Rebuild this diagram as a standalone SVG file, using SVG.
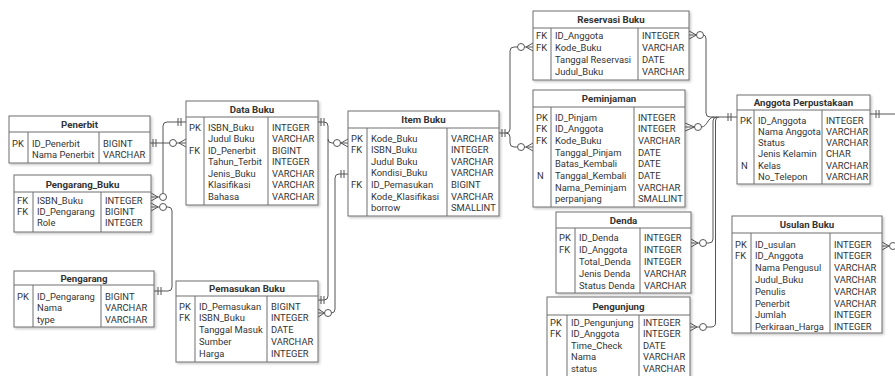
<svg xmlns="http://www.w3.org/2000/svg" width="895" height="376" viewBox="0 0 895 376">
<style>
.bg{fill:#fff}
.tb{fill:#fff;stroke:#6e6e6e;stroke-width:1;filter:url(#sh)}
.dv{stroke:#6e6e6e;stroke-width:1;fill:none}
.t{font-family:Roboto,"Liberation Sans",Arial,sans-serif;font-size:9.4px;fill:#333}
.h{font-family:Roboto,"Liberation Sans",Arial,sans-serif;font-size:9.7px;font-weight:bold;fill:#333;text-anchor:middle}
.ln{stroke:#555;stroke-width:1;fill:none}
.ci{stroke:#555;stroke-width:1;fill:#fff}
</style>
<defs>
<filter id="sh" x="-10%" y="-10%" width="130%" height="130%">
<feDropShadow dx="1.5" dy="1.5" stdDeviation="1" flood-color="#000" flood-opacity="0.22"/>
</filter>
</defs>
<rect class="bg" x="0" y="0" width="895" height="376"/>

<g id="connectors">
<path class="ln" d="M150,143 H169.5 M176.5,143 H179 L186,139 M179,143 H186 M179,143 L186,147 M153,139 V147 M156,139 V147"/>
<circle class="ci" cx="173" cy="143" r="3.5"/>
<path class="ln" d="M186,122 H167 Q163,122 163,126 V193.5 M159.5,197 H158 L151,193 M158,197 H151 M158,197 L151,201 M178,118 V126 M181,118 V126"/>
<circle class="ci" cx="163" cy="197" r="3.5"/>
<path class="ln" d="M154,291 H168 Q172,291 172,287 V211 Q172,207 168,207 H166.5 M159.5,207 H158 L151,203 M158,207 H151 M158,207 L151,211 M158,287 V295 M161,287 V295"/>
<circle class="ci" cx="163" cy="207" r="3.5"/>
<path class="ln" d="M318,122 H324 Q328,122 328,126 V139 Q328,143 332,143 H333.5 M340.5,143 H341 L348,139 M341,143 H348 M341,143 L348,147 M321,118 V126 M324,118 V126"/>
<circle class="ci" cx="337" cy="143" r="3.5"/>
<path class="ln" d="M328,139 V296 Q328,300 324,300 H318 M321,296 V304 M324,296 V304"/>
<path class="ln" d="M348,174 H339 Q335,174 335,178 V309 Q335,313 331.5,313 M324.5,313 L318,309 M324.5,313 H318 M324.5,313 L318,317 M341,170 V178 M344,170 V178"/>
<circle class="ci" cx="328" cy="313" r="3.5"/>
<path class="ln" d="M499,133 H506 Q510,133 510,129 V51 Q510,47 514,47 H517.5 M524.5,47 H526 L533,43 M526,47 H533 M526,47 L533,51 M506,133 Q510,133 510,137 V143 Q510,147 514,147 H517.5 M524.5,147 H526 L533,143 M526,147 H533 M526,147 L533,151 M502,129 V137 M505,129 V137"/>
<circle class="ci" cx="521" cy="47" r="3.5"/>
<circle class="ci" cx="521" cy="147" r="3.5"/>
<path class="ln" d="M737,117 H710 Q706,117 706,113 V39 Q706,35 703.5,35 M696.5,35 L689,31 M696.5,35 H689 M696.5,35 L689,39 M728,113 V121 M731,113 V121"/>
<circle class="ci" cx="700" cy="35" r="3.5"/>
<path class="ln" d="M701.5,127 C707,127 708,117 714,117 M694.5,127 L685,123 M694.5,127 H685 M694.5,127 L685,131"/>
<circle class="ci" cx="698" cy="127" r="3.5"/>
<path class="ln" d="M717,117 Q713,117 713,121 V239 Q713,243 709,243 H706.5 M699.5,243 H698 L691,239 M698,243 H691 M698,243 L691,247"/>
<circle class="ci" cx="703" cy="243" r="3.5"/>
<path class="ln" d="M719,117 Q715.5,117 715.5,121 V323 Q715.5,327 711,327 H706.5 M699.5,327 H697 L690,323 M697,327 H690 M697,327 L690,331"/>
<circle class="ci" cx="703" cy="327" r="3.5"/>
<path class="ln" d="M870,114 H895 M876,110 V118 M879,110 V118 M889,246 L882,242 M889,246 H882 M889,246 L882,250"/>
<circle class="ci" cx="893" cy="246" r="3.5"/>
</g>

<g id="penerbit">
<rect class="tb" x="9" y="116" width="141" height="47"/>
<path class="dv" d="M9,132 H150 M28,132 V163 M99,132 V163"/>
<text class="h" x="79.5" y="127.5">Penerbit</text>
<text class="t" x="12" y="146.5">PK</text><text class="t" x="32" y="146.5">ID_Penerbit</text><text class="t" x="103" y="146.5">BIGINT</text>
<text class="t" x="32" y="157.5">Nama Penerbit</text><text class="t" x="103" y="157.5">VARCHAR</text>
</g>

<g id="pengarang_buku">
<rect class="tb" x="14" y="175" width="137" height="57"/>
<path class="dv" d="M14,192 H151 M33,192 V232 M101,192 V232"/>
<text class="h" x="82.5" y="187.5">Pengarang_Buku</text>
<text class="t" x="17" y="203.5">FK</text><text class="t" x="37" y="203.5">ISBN_Buku</text><text class="t" x="105" y="203.5">INTEGER</text>
<text class="t" x="17" y="214.5">FK</text><text class="t" x="37" y="214.5">ID_Pengarang</text><text class="t" x="105" y="214.5">BIGINT</text>
<text class="t" x="37" y="225.5">Role</text><text class="t" x="105" y="225.5">INTEGER</text>
</g>

<g id="pengarang">
<rect class="tb" x="14" y="271" width="140" height="56"/>
<path class="dv" d="M14,285 H154 M33,285 V327 M101,285 V327"/>
<text class="h" x="84" y="281.5">Pengarang</text>
<text class="t" x="17" y="299.5">PK</text><text class="t" x="37" y="299.5">ID_Pengarang</text><text class="t" x="105" y="299.5">BIGINT</text>
<text class="t" x="37" y="311">Nama</text><text class="t" x="105" y="311">VARCHAR</text>
<text class="t" x="37" y="322.5">type</text><text class="t" x="105" y="322.5">VARCHAR</text>
</g>

<g id="data_buku">
<rect class="tb" x="186" y="101" width="132" height="104"/>
<path class="dv" d="M186,117 H318 M204,117 V205 M268,117 V205"/>
<text class="h" x="252" y="112.5">Data Buku</text>
<text class="t" x="189" y="130.5">PK</text><text class="t" x="208" y="130.5">ISBN_Buku</text><text class="t" x="272" y="130.5">INTEGER</text>
<text class="t" x="208" y="142">Judul Buku</text><text class="t" x="272" y="142">VARCHAR</text>
<text class="t" x="189" y="153.5">FK</text><text class="t" x="208" y="153.5">ID_Penerbit</text><text class="t" x="272" y="153.5">BIGINT</text>
<text class="t" x="208" y="165">Tahun_Terbit</text><text class="t" x="272" y="165">INTEGER</text>
<text class="t" x="208" y="176.5">Jenis_Buku</text><text class="t" x="272" y="176.5">VARCHAR</text>
<text class="t" x="208" y="188">Klasifikasi</text><text class="t" x="272" y="188">VARCHAR</text>
<text class="t" x="208" y="199.5">Bahasa</text><text class="t" x="272" y="199.5">VARCHAR</text>
</g>

<g id="pemasukan_buku">
<rect class="tb" x="176" y="281" width="142" height="81"/>
<path class="dv" d="M176,296 H318 M195,296 V362 M267,296 V362"/>
<text class="h" x="247" y="292">Pemasukan Buku</text>
<text class="t" x="179" y="309.5">PK</text><text class="t" x="199" y="309.5">ID_Pemasukan</text><text class="t" x="271" y="309.5">BIGINT</text>
<text class="t" x="179" y="321.3">FK</text><text class="t" x="199" y="321.3">ISBN_Buku</text><text class="t" x="271" y="321.3">INTEGER</text>
<text class="t" x="199" y="333.1">Tanggal Masuk</text><text class="t" x="271" y="333.1">DATE</text>
<text class="t" x="199" y="344.9">Sumber</text><text class="t" x="271" y="344.9">VARCHAR</text>
<text class="t" x="199" y="356.7">Harga</text><text class="t" x="271" y="356.7">INTEGER</text>
</g>

<g id="item_buku">
<rect class="tb" x="348" y="111" width="151" height="105"/>
<path class="dv" d="M348,128 H499 M367,128 V216 M447,128 V216"/>
<text class="h" x="423.5" y="123">Item Buku</text>
<text class="t" x="351" y="141.5">PK</text><text class="t" x="371" y="141.5">Kode_Buku</text><text class="t" x="451" y="141.5">VARCHAR</text>
<text class="t" x="351" y="153.1">FK</text><text class="t" x="371" y="153.1">ISBN_Buku</text><text class="t" x="451" y="153.1">INTEGER</text>
<text class="t" x="371" y="164.7">Judul Buku</text><text class="t" x="451" y="164.7">VARCHAR</text>
<text class="t" x="371" y="176.3">Kondisi_Buku</text><text class="t" x="451" y="176.3">VARCHAR</text>
<text class="t" x="351" y="187.9">FK</text><text class="t" x="371" y="187.9">ID_Pemasukan</text><text class="t" x="451" y="187.9">BIGINT</text>
<text class="t" x="371" y="199.5">Kode_Klasifikasi</text><text class="t" x="451" y="199.5">VARCHAR</text>
<text class="t" x="371" y="211.1">borrow</text><text class="t" x="451" y="211.1">SMALLINT</text>
</g>

<g id="reservasi_buku">
<rect class="tb" x="533" y="11" width="156" height="69"/>
<path class="dv" d="M533,28 H689 M551,28 V80 M638,28 V80"/>
<text class="h" x="611" y="23">Reservasi Buku</text>
<text class="t" x="536" y="38.5">FK</text><text class="t" x="555" y="38.5">ID_Anggota</text><text class="t" x="642" y="38.5">INTEGER</text>
<text class="t" x="536" y="50.5">FK</text><text class="t" x="555" y="50.5">Kode_Buku</text><text class="t" x="642" y="50.5">VARCHAR</text>
<text class="t" x="555" y="62.5">Tanggal Reservasi</text><text class="t" x="642" y="62.5">DATE</text>
<text class="t" x="555" y="74.5">Judul_Buku</text><text class="t" x="642" y="74.5">VARCHAR</text>
</g>

<g id="peminjaman">
<rect class="tb" x="533" y="90" width="152" height="117"/>
<path class="dv" d="M533,107 H685 M551,107 V207 M634,107 V207"/>
<text class="h" x="609" y="102">Peminjaman</text>
<text class="t" x="536" y="120.5">PK</text><text class="t" x="555" y="120.5">ID_Pinjam</text><text class="t" x="638" y="120.5">INTEGER</text>
<text class="t" x="536" y="132.2">FK</text><text class="t" x="555" y="132.2">ID_Anggota</text><text class="t" x="638" y="132.2">INTEGER</text>
<text class="t" x="536" y="143.9">FK</text><text class="t" x="555" y="143.9">Kode_Buku</text><text class="t" x="638" y="143.9">VARCHAR</text>
<text class="t" x="555" y="155.6">Tanggal_Pinjam</text><text class="t" x="638" y="155.6">DATE</text>
<text class="t" x="555" y="167.3">Batas_Kembali</text><text class="t" x="638" y="167.3">DATE</text>
<text class="t" x="537" y="179">N</text><text class="t" x="555" y="179">Tanggal_Kembali</text><text class="t" x="638" y="179">DATE</text>
<text class="t" x="555" y="190.7">Nama_Peminjam</text><text class="t" x="638" y="190.7">VARCHAR</text>
<text class="t" x="555" y="202.4">perpanjang</text><text class="t" x="638" y="202.4">SMALLINT</text>
</g>

<g id="denda">
<rect class="tb" x="556" y="212" width="135" height="81"/>
<path class="dv" d="M556,228 H691 M575,228 V293 M640,228 V293"/>
<text class="h" x="623.5" y="223.5">Denda</text>
<text class="t" x="559" y="240.5">PK</text><text class="t" x="579" y="240.5">ID_Denda</text><text class="t" x="644" y="240.5">INTEGER</text>
<text class="t" x="559" y="252.5">FK</text><text class="t" x="579" y="252.5">ID_Anggota</text><text class="t" x="644" y="252.5">INTEGER</text>
<text class="t" x="579" y="264.5">Total_Denda</text><text class="t" x="644" y="264.5">INTEGER</text>
<text class="t" x="579" y="276.5">Jenis Denda</text><text class="t" x="644" y="276.5">VARCHAR</text>
<text class="t" x="579" y="288.5">Status Denda</text><text class="t" x="644" y="288.5">VARCHAR</text>
</g>

<g id="pengunjung">
<rect class="tb" x="547" y="297" width="143" height="82"/>
<path class="dv" d="M547,315 H690 M567,315 V379 M639,315 V379"/>
<text class="h" x="618.5" y="309.5">Pengunjung</text>
<text class="t" x="550" y="325.5">PK</text><text class="t" x="571" y="325.5">ID_Pengunjung</text><text class="t" x="643" y="325.5">INTEGER</text>
<text class="t" x="550" y="337">FK</text><text class="t" x="571" y="337">ID_Anggota</text><text class="t" x="643" y="337">INTEGER</text>
<text class="t" x="571" y="348.5">Time_Check</text><text class="t" x="643" y="348.5">DATE</text>
<text class="t" x="571" y="360">Nama</text><text class="t" x="643" y="360">VARCHAR</text>
<text class="t" x="571" y="371.5">status</text><text class="t" x="643" y="371.5">VARCHAR</text>
</g>

<g id="anggota_perpustakaan">
<rect class="tb" x="737" y="95" width="133" height="89"/>
<path class="dv" d="M737,110 H870 M754,110 V184 M822,110 V184"/>
<text class="h" x="803.5" y="106">Anggota Perpustakaan</text>
<text class="t" x="740" y="123.5">PK</text><text class="t" x="758" y="123.5">ID_Anggota</text><text class="t" x="826" y="123.5">INTEGER</text>
<text class="t" x="758" y="134.8">Nama Anggota</text><text class="t" x="826" y="134.8">VARCHAR</text>
<text class="t" x="758" y="146.1">Status</text><text class="t" x="826" y="146.1">VARCHAR</text>
<text class="t" x="758" y="157.4">Jenis Kelamin</text><text class="t" x="826" y="157.4">CHAR</text>
<text class="t" x="741" y="168.7">N</text><text class="t" x="758" y="168.7">Kelas</text><text class="t" x="826" y="168.7">VARCHAR</text>
<text class="t" x="758" y="180">No_Telepon</text><text class="t" x="826" y="180">VARCHAR</text>
</g>

<g id="usulan_buku">
<rect class="tb" x="732" y="216" width="150" height="117"/>
<path class="dv" d="M732,233 H882 M751,233 V333 M830,233 V333"/>
<text class="h" x="807" y="228">Usulan Buku</text>
<text class="t" x="735" y="247.5">PK</text><text class="t" x="755" y="247.5">ID_usulan</text><text class="t" x="834" y="247.5">INTEGER</text>
<text class="t" x="735" y="259.3">FK</text><text class="t" x="755" y="259.3">ID_Anggota</text><text class="t" x="834" y="259.3">INTEGER</text>
<text class="t" x="755" y="271.1">Nama Pengusul</text><text class="t" x="834" y="271.1">VARCHAR</text>
<text class="t" x="755" y="282.9">Judul_Buku</text><text class="t" x="834" y="282.9">VARCHAR</text>
<text class="t" x="755" y="294.7">Penulis</text><text class="t" x="834" y="294.7">VARCHAR</text>
<text class="t" x="755" y="306.5">Penerbit</text><text class="t" x="834" y="306.5">VARCHAR</text>
<text class="t" x="755" y="318.3">Jumlah</text><text class="t" x="834" y="318.3">INTEGER</text>
<text class="t" x="755" y="330.1">Perkiraan_Harga</text><text class="t" x="834" y="330.1">INTEGER</text>
</g>
</svg>
